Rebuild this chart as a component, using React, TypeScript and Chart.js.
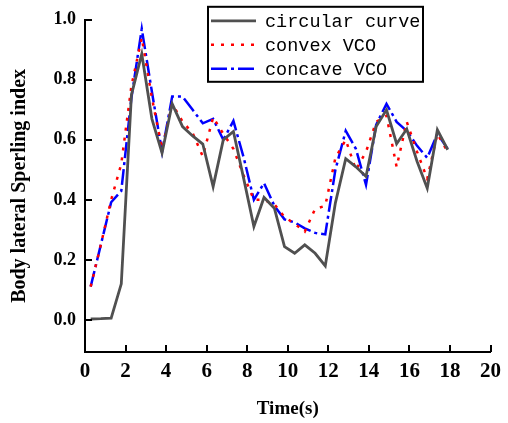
import React, { useEffect, useRef } from 'react';
import { Chart, registerables } from 'chart.js';

Chart.register(...registerables);

const times = [0.28, 0.78, 1.29, 1.79, 2.29, 2.8, 3.3, 3.8, 4.3, 4.81, 5.31, 5.81, 6.32, 6.82, 7.32, 7.83, 8.33, 8.83, 9.34, 9.84, 10.34, 10.84, 11.35, 11.85, 12.35, 12.86, 13.36, 13.86, 14.36, 14.87, 15.37, 15.87, 16.38, 16.88, 17.38, 17.89];
const circularCurve = [0.003, 0.004, 0.006, 0.12, 0.75, 0.886, 0.67, 0.556, 0.72, 0.644, 0.613, 0.586, 0.444, 0.6, 0.628, 0.47, 0.311, 0.408, 0.372, 0.244, 0.222, 0.25, 0.222, 0.18, 0.39, 0.537, 0.51, 0.478, 0.644, 0.7, 0.587, 0.636, 0.528, 0.439, 0.633, 0.567];
const convexVCO = [0.111, 0.25, 0.4, 0.52, 0.78, 0.94, 0.74, 0.57, 0.72, 0.661, 0.622, 0.545, 0.675, 0.62, 0.57, 0.48, 0.4, 0.4, 0.385, 0.343, 0.32, 0.294, 0.37, 0.38, 0.54, 0.6, 0.5, 0.56, 0.66, 0.68, 0.51, 0.66, 0.56, 0.47, 0.62, 0.56];
const concaveVCO = [0.111, 0.25, 0.392, 0.43, 0.74, 0.97, 0.76, 0.56, 0.744, 0.744, 0.7, 0.655, 0.67, 0.6, 0.663, 0.54, 0.4, 0.456, 0.38, 0.335, 0.325, 0.305, 0.29, 0.285, 0.5, 0.63, 0.57, 0.45, 0.65, 0.72, 0.66, 0.63, 0.58, 0.54, 0.62, 0.57];
const seriesLabels = ['circular curve', 'convex VCO', 'concave VCO'];
const xTickValues = [0, 2, 4, 6, 8, 10, 12, 14, 16, 18, 20];
const yTickValues = [0, 0.2, 0.4, 0.6, 0.8, 1.0];

const SERIF = 'Liberation Serif';

export default function App() {
  const ref = useRef<HTMLCanvasElement>(null);

  useEffect(() => {
    if (!ref.current) return;
    const toPts = (ys: number[]) => times.map((t, i) => ({ x: t, y: ys[i] }));

    const inwardTicks = {
      id: 'inwardTicks',
      afterDraw(chart: any) {
        const { ctx, chartArea, scales } = chart;
        ctx.save();
        ctx.strokeStyle = '#000';
        ctx.lineWidth = 2;
        ctx.beginPath();
        for (const v of xTickValues) {
          const px = Math.round(scales.x.getPixelForValue(v));
          ctx.moveTo(px, chartArea.bottom);
          ctx.lineTo(px, chartArea.bottom - 7);
        }
        for (const v of yTickValues) {
          const py = Math.round(scales.y.getPixelForValue(v));
          ctx.moveTo(chartArea.left, py);
          ctx.lineTo(chartArea.left + 7, py);
        }
        ctx.stroke();
        ctx.restore();
      },
    };

    const boxLegend = {
      id: 'boxLegend',
      afterDraw(chart: any) {
        const { ctx, chartArea } = chart;
        const left = chartArea.left + 123;
        const top = chartArea.top - 13;
        const w = 215;
        const h = 75;
        ctx.save();
        ctx.fillStyle = '#fff';
        ctx.fillRect(left, top, w, h);
        ctx.strokeStyle = '#000';
        ctx.lineWidth = 2;
        ctx.strokeRect(left, top, w, h);
        ctx.font = '18.5px "Liberation Mono", "DejaVu Sans Mono", monospace';
        ctx.textBaseline = 'middle';
        ctx.textAlign = 'left';
        chart.data.datasets.forEach((ds: any, i: number) => {
          const cy = top + 14 + i * 24;
          ctx.strokeStyle = ds.borderColor;
          ctx.lineWidth = ds.borderWidth;
          ctx.setLineDash(ds.borderDash || []);
          ctx.beginPath();
          ctx.moveTo(left + 3, cy);
          ctx.lineTo(left + 48, cy);
          ctx.stroke();
          ctx.setLineDash([]);
          ctx.fillStyle = '#000';
          ctx.fillText(ds.label, left + 57, cy + 1);
        });
        ctx.restore();
      },
    };

    const chart = new Chart(ref.current, {
      type: 'line',
      data: {
        datasets: [
          {
            label: seriesLabels[0],
            data: toPts(circularCurve),
            borderColor: 'rgb(80,80,80)',
            borderWidth: 2.8,
            pointRadius: 0,
            tension: 0,
            fill: false,
          },
          {
            label: seriesLabels[1],
            data: toPts(convexVCO),
            borderColor: 'rgb(255,0,0)',
            borderWidth: 2.5,
            borderDash: [3, 7],
            pointRadius: 0,
            tension: 0,
            fill: false,
          },
          {
            label: seriesLabels[2],
            data: toPts(concaveVCO),
            borderColor: 'rgb(0,0,255)',
            borderWidth: 2.5,
            borderDash: [16, 4, 3, 4],
            pointRadius: 0,
            tension: 0,
            fill: false,
          },
        ],
      },
      options: {
        responsive: false,
        animation: false,
        layout: { padding: { top: 19, right: 12, left: 0, bottom: 0 } },
        plugins: { legend: { display: false }, tooltip: { enabled: false } },
        scales: {
          x: {
            type: 'linear',
            min: 0,
            max: 20,
            afterBuildTicks: (s: any) => {
              s.ticks = xTickValues.map((v) => ({ value: v }));
            },
            afterFit: (s: any) => {
              s.height = 71;
            },
            grid: { display: false, drawTicks: false },
            border: { display: true, color: '#000', width: 2 },
            ticks: {
              color: '#000',
              padding: 7,
              maxRotation: 0,
              font: { family: SERIF, size: 21, weight: 'bold' },
              callback: (v: any) => String(v),
            },
            title: {
              display: true,
              text: 'Time(s)',
              color: '#000',
              font: { family: SERIF, size: 19, weight: 'bold' },
              padding: { top: 0, bottom: 3 },
            },
          },
          y: {
            type: 'linear',
            min: -0.107,
            max: 1.0,
            afterBuildTicks: (s: any) => {
              s.ticks = yTickValues.map((v) => ({ value: v }));
            },
            afterFit: (s: any) => {
              s.width = 85;
            },
            grid: { display: false, drawTicks: false },
            border: { display: true, color: '#000', width: 2 },
            ticks: {
              color: '#000',
              padding: 9,
              font: { family: SERIF, size: 18, weight: 'bold' },
              callback: (v: any) => Number(v).toFixed(1),
            },
            title: {
              display: true,
              text: 'Body lateral Sperling index',
              color: '#000',
              font: { family: SERIF, size: 20, weight: 'bold' },
              padding: { top: 8, bottom: 0 },
            },
          },
        },
      },
      plugins: [inwardTicks, boxLegend],
    });
    return () => chart.destroy();
  }, []);

  return (
    <div style={{ position: 'fixed', left: 0, top: 0, width: 508, height: 423, background: '#fff' }}>
      <canvas ref={ref} width={508} height={423} style={{ display: 'block', width: 508, height: 423 }} />
    </div>
  );
}
